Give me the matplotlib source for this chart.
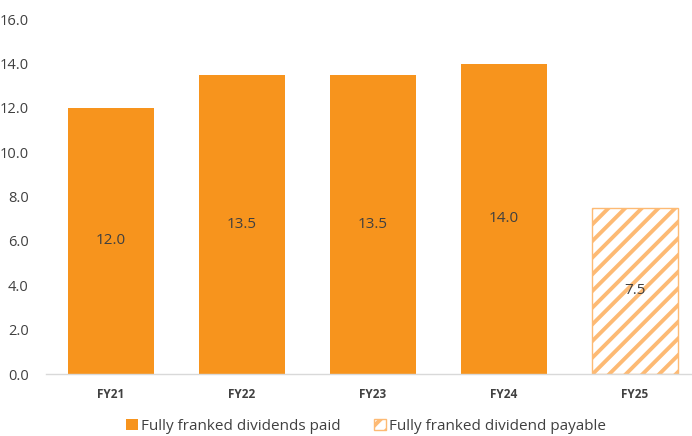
import matplotlib
matplotlib.use("Agg")
import matplotlib.pyplot as plt
from matplotlib.patches import Patch

categories = ["FY21", "FY22", "FY23", "FY24", "FY25"]
values = [12.0, 13.5, 13.5, 14.0, 7.5]
payable = [False, False, False, False, True]
yticks = [0, 2, 4, 6, 8, 10, 12, 14, 16]

orange = "#F7941D"
light = "#FDBA74"
text_c = "#404040"

plt.rcParams["font.family"] = ["Open Sans", "DejaVu Sans"]
plt.rcParams["hatch.linewidth"] = 2.8
plt.rcParams["hatch.color"] = light

fig = plt.figure(figsize=(6.92, 4.36), dpi=100)
W, H = 692, 436
left, right, top, bottom = 45.5, 700.5, 19.3, 374
ax = fig.add_axes([left / W, 1 - bottom / H, (right - left) / W, (bottom - top) / H])

x = list(range(len(categories)))
for i, (c, v, p) in enumerate(zip(categories, values, payable)):
    if p:
        ax.bar(i, v, width=0.656, color="white", edgecolor=light, hatch="//", linewidth=1.0)
    else:
        ax.bar(i, v, width=0.656, color=orange, edgecolor="none")
    ax.text(i, v / 2, f"{v:.1f}", ha="center", va="center", fontsize=11, color=text_c)

ax.set_xlim(-0.5, len(categories) - 0.5)
ax.set_ylim(0, 16)
ax.set_yticks(yticks)
ax.set_yticklabels([f"{t:.1f}" for t in yticks], fontsize=10.5, color=text_c)
ax.set_xticks(x)
ax.set_xticklabels(categories, fontsize=8.5, color=text_c, fontweight="bold")
ax.tick_params(axis="both", length=0)
ax.tick_params(axis="x", pad=10)
ax.tick_params(axis="y", pad=12)
for s in ["top", "right", "left"]:
    ax.spines[s].set_visible(False)
ax.spines["bottom"].set_color("#d9d9d9")
ax.spines["bottom"].set_linewidth(1.0)

handles = [
    Patch(facecolor=orange, edgecolor="none", label="Fully franked dividends paid"),
    Patch(facecolor="white", edgecolor=light, hatch="//", label="Fully franked dividend payable"),
]
fig.legend(handles=handles, loc="center", bbox_to_anchor=(366 / W, 1 - 426 / H), ncol=2,
           frameon=False, fontsize=11, handlelength=0.75, handleheight=0.75,
           handletextpad=0.2, columnspacing=2.2, labelcolor=text_c)

fig.savefig("out.png", dpi=100)
